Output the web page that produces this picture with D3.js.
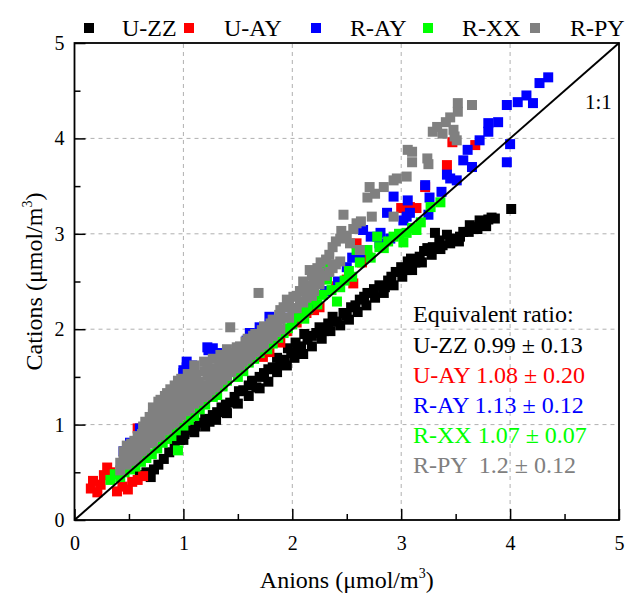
<!DOCTYPE html>
<html>
<head>
<meta charset="utf-8">
<script src="https://cdn.jsdelivr.net/npm/d3@7"></script>
<style>
  html, body { margin: 0; padding: 0; background: #ffffff; }
  svg { display: block; }
</style>
</head>
<body>
<svg id="chart" width="627" height="595"></svg>
<script>
// ---------------- data ----------------
const seriesNames = ["U-ZZ", "U-AY", "R-AY", "R-XX", "R-PY"];
const seriesColors = ["#000000", "#ff0000", "#0000ff", "#00ff00", "#808080"];
const xTicks = [0, 1, 2, 3, 4, 5];
const yTicks = [0, 1, 2, 3, 4, 5];
const minorTicks = [0.5, 1.5, 2.5, 3.5, 4.5];
const ratioTitle = "Equivalent ratio:";
const ratioLabels = ["U-ZZ 0.99 \u00b1 0.13", "U-AY 1.08 \u00b1 0.20", "R-AY 1.13 \u00b1 0.12", "R-XX 1.07 \u00b1 0.07", "R-PY  1.2 \u00b1 0.12"];

const uzz = [[0.60,0.47],[0.66,0.50],[0.70,0.45],[0.73,0.53],[0.77,0.58],[0.82,0.64],[0.87,0.71],[0.92,0.78],[0.97,0.84],[1.01,0.90],[1.06,0.94],[1.11,0.98],[1.15,1.02],[1.20,1.06],[1.24,1.03],[1.27,1.10],[1.31,1.13],[1.35,1.18],[1.39,1.21],[1.43,1.23],[1.47,1.29],[1.51,1.35],[1.55,1.36],[1.60,1.41],[1.63,1.46],[1.67,1.39],[1.70,1.50],[1.74,1.54],[1.78,1.58],[1.82,1.60],[1.86,1.70],[1.89,1.63],[1.93,1.68],[1.96,1.80],[1.99,1.75],[2.03,1.86],[2.05,1.77],[2.08,1.82],[2.11,1.95],[2.14,1.89],[2.18,1.93],[2.22,1.96],[2.25,2.02],[2.29,1.98],[2.33,2.06],[2.37,2.13],[2.41,2.08],[2.47,2.17],[2.50,2.14],[2.54,2.23],[2.58,2.25],[2.62,2.31],[2.66,2.34],[2.69,2.38],[2.75,2.42],[2.80,2.46],[2.85,2.44],[2.88,2.51],[2.91,2.55],[2.95,2.60],[3.00,2.65],[3.05,2.62],[3.06,2.71],[3.09,2.74],[3.13,2.70],[3.17,2.76],[3.21,2.82],[3.24,2.85],[3.29,2.86],[3.31,3.01],[3.35,2.93],[3.38,2.88],[3.42,2.99],[3.48,2.95],[3.54,2.97],[3.57,3.02],[3.63,3.09],[3.69,3.07],[3.72,3.14],[3.76,3.11],[3.80,3.15],[3.83,3.17],[3.86,3.16],[4.01,3.26],
  [1.00,0.84],[1.10,0.92],[1.20,0.98],[1.30,1.05],[1.40,1.12],[1.50,1.22],[1.60,1.30],[1.70,1.38],[1.78,1.45],[1.86,1.55],[1.95,1.62],[2.02,1.70],[2.10,1.74],[2.18,1.82],[2.27,1.90],[2.35,1.98],[2.44,2.04],[2.52,2.10],[2.60,2.18],[2.68,2.25],[2.76,2.33],[2.84,2.38],[2.93,2.46],[3.01,2.55],[3.10,2.62],[3.19,2.70],[3.28,2.78],[3.36,2.84],[3.45,2.90],[3.53,2.92],[3.62,3.02],[3.70,3.05],[3.78,3.08]];

const uay = [[0.15,0.33],[0.17,0.41],[0.21,0.29],[0.24,0.37],[0.27,0.47],[0.30,0.55],[0.33,0.50],[0.39,0.30],[0.44,0.35],[0.49,0.32],[0.53,0.40],[0.58,0.42],[0.63,0.46],[0.58,0.96],[0.80,0.93],[1.00,1.10],[1.18,1.36],[1.30,1.40],[1.50,1.60],[1.73,1.71],[1.79,1.76],[1.89,1.86],[1.95,1.98],[2.04,2.07],[2.13,2.17],[2.20,2.20],[2.25,2.23],[2.40,2.45],[2.50,2.52],[2.56,2.48],[2.59,2.90],[2.64,2.70],[2.69,2.76],[3.00,3.27],[3.08,3.28],[3.14,3.27],[3.22,3.49],[3.42,3.72],[3.47,3.96],[3.68,3.93]];

const ray = [[0.45,0.72],[0.51,0.81],[0.60,0.96],[0.80,1.10],[1.00,1.54],[1.00,1.57],[1.03,1.60],[1.03,1.66],[1.08,1.62],[1.07,1.48],[1.22,1.81],[1.27,1.80],[1.23,1.78],[1.31,1.75],[1.20,1.40],[1.46,1.73],[1.50,1.60],[1.58,1.88],[1.61,1.96],[1.67,1.92],[1.70,2.02],[1.73,1.99],[1.79,2.13],[1.95,2.23],[2.00,2.10],[2.19,2.27],[2.30,2.40],[2.42,2.50],[2.50,2.65],[2.55,2.75],[2.62,2.76],[2.65,2.83],[2.65,3.04],[2.72,2.97],[2.81,3.01],[2.80,2.90],[2.90,2.95],[2.87,3.22],[2.93,3.39],[3.02,3.14],[3.05,3.18],[3.08,3.22],[3.06,3.35],[3.22,3.51],[3.25,3.20],[3.26,3.38],[3.37,3.44],[3.42,3.62],[3.45,3.58],[3.51,3.56],[3.57,3.77],[3.61,3.88],[3.65,3.70],[3.72,3.98],[3.80,4.07],[3.80,4.16],[3.89,4.17],[3.97,3.75],[4.00,3.94],[3.97,4.35],[4.07,4.38],[4.15,4.45],[4.21,4.37],[4.27,4.58],[4.35,4.64]];

const rxx = [[0.33,0.42],[0.37,0.48],[0.42,0.45],[0.46,0.50],[0.51,0.53],[0.56,0.56],[0.61,0.61],[0.66,0.65],[0.71,0.69],[0.76,0.75],[0.81,0.81],[0.85,0.85],[0.89,0.88],[0.95,0.73],[0.93,0.94],[1.00,0.99],[1.05,1.05],[1.10,1.09],[1.15,1.16],[1.20,1.21],[1.27,1.29],[1.22,1.36],[1.31,1.31],[1.36,1.40],[1.40,1.46],[1.43,1.60],[1.49,1.57],[1.50,1.50],[1.55,1.56],[1.60,1.65],[1.65,1.69],[1.70,1.75],[1.77,1.79],[1.82,1.85],[1.82,1.96],[1.87,1.91],[1.92,1.96],[1.96,2.01],[2.00,2.05],[2.04,2.13],[2.08,2.18],[2.11,2.11],[2.14,2.21],[2.19,2.31],[2.23,2.26],[2.28,2.36],[2.29,2.65],[2.32,2.52],[2.36,2.41],[2.41,2.29],[2.44,2.44],[2.48,2.51],[2.52,2.61],[2.55,2.55],[2.59,2.83],[2.62,2.70],[2.69,2.83],[2.72,2.75],[2.78,2.97],[2.80,2.86],[2.84,2.85],[2.88,2.92],[2.93,2.97],[2.98,3.00],[3.02,2.91],[3.05,3.01],[3.10,3.06],[3.14,3.04],[3.18,3.12],[3.27,3.28],[3.36,3.33]];

const rpy = [[0.42,0.52],[0.42,0.60],[0.48,0.58],[0.48,0.68],[0.48,0.78],[0.55,0.64],[0.55,0.73],[0.55,0.83],[0.62,0.72],[0.62,0.81],[0.62,0.90],[0.63,0.98],[0.68,0.80],[0.68,0.89],[0.68,0.98],[0.69,1.08],[0.75,0.87],[0.75,0.96],[0.75,1.06],[0.75,1.15],[0.77,1.24],[0.82,0.94],[0.82,1.03],[0.82,1.12],[0.82,1.21],[0.83,1.30],[0.88,1.00],[0.88,1.09],[0.88,1.18],[0.88,1.28],[0.88,1.37],[0.95,1.07],[0.95,1.16],[0.95,1.26],[0.95,1.36],[0.95,1.46],[1.02,1.14],[1.02,1.23],[1.02,1.33],[1.02,1.43],[1.04,1.53],[1.10,1.22],[1.10,1.31],[1.10,1.41],[1.12,1.52],[1.10,1.62],[1.18,1.29],[1.18,1.39],[1.19,1.56],[1.19,1.66],[1.25,1.36],[1.25,1.46],[1.26,1.56],[1.27,1.69],[1.32,1.43],[1.32,1.53],[1.33,1.63],[1.34,1.73],[1.40,1.51],[1.40,1.61],[1.40,1.70],[1.40,1.79],[1.43,2.02],[1.48,1.59],[1.48,1.69],[1.49,1.81],[1.55,1.66],[1.55,1.76],[1.57,1.87],[1.62,1.73],[1.62,1.83],[1.64,1.93],[1.69,2.38],[1.70,1.81],[1.70,1.91],[1.72,1.99],[1.78,1.90],[1.78,1.99],[1.80,2.06],[1.85,1.97],[1.86,2.07],[1.88,2.15],[1.92,2.12],[1.92,2.23],[1.95,2.31],[2.00,2.22],[2.01,2.34],[2.07,2.29],[2.07,2.40],[2.13,2.33],[2.13,2.46],[2.16,2.62],[2.20,2.40],[2.20,2.51],[2.25,2.47],[2.25,2.59],[2.26,2.70],[2.30,2.56],[2.31,2.73],[2.37,2.64],[2.37,2.86],[2.44,2.71],[2.44,2.95],[2.45,3.03],[2.47,3.20],[2.53,2.90],[2.59,3.11],[2.62,2.83],[2.63,3.13],[2.69,3.38],[2.71,3.49],[2.73,3.18],[2.76,3.42],[2.84,3.49],[2.93,3.56],[2.96,3.58],[2.93,3.18],[3.05,3.60],[3.10,3.75],[3.10,3.86],[3.06,3.88],[3.24,3.79],[3.25,3.73],[3.29,4.07],[3.33,4.12],[3.38,4.05],[3.41,4.17],[3.45,4.22],[3.48,4.09],[3.49,4.02],[3.51,3.98],[3.52,4.28],[3.52,4.37],[3.65,4.35],
  [0.45,0.63],[0.45,0.72],[0.52,0.62],[0.52,0.72],[0.52,0.80],[0.58,0.68],[0.58,0.78],[0.58,0.88],[0.65,0.75],[0.65,0.85],[0.65,0.94],[0.65,1.03],[0.72,0.82],[0.72,0.92],[0.72,1.01],[0.72,1.11],[0.72,1.18],[0.79,0.89],[0.79,0.99],[0.79,1.08],[0.79,1.17],[0.79,1.26],[0.85,0.95],[0.85,1.05],[0.85,1.15],[0.85,1.24],[0.85,1.33],[0.92,1.02],[0.92,1.12],[0.92,1.22],[0.92,1.31],[0.92,1.41],[0.98,1.10],[0.98,1.20],[0.98,1.30],[0.98,1.40],[0.98,1.48],[1.06,1.17],[1.06,1.27],[1.06,1.37],[1.06,1.47],[1.14,1.25],[1.14,1.35],[1.14,1.45],[1.22,1.31],[1.22,1.41],[1.22,1.51],[1.22,1.61],[1.29,1.39],[1.29,1.49],[1.29,1.59],[1.36,1.47],[1.36,1.57],[1.36,1.67],[1.44,1.55],[1.44,1.65],[1.44,1.75],[1.52,1.62],[1.52,1.72],[1.52,1.82],[1.59,1.69],[1.59,1.79],[1.59,1.90],[1.66,1.76],[1.66,1.86],[1.66,1.95],[1.74,1.84],[1.74,1.94],[1.74,2.03],[1.82,1.93],[1.82,2.03],[1.82,2.10],[1.89,2.00],[1.89,2.10],[1.89,2.20],[1.97,2.12],[1.97,2.26],[2.04,2.22],[2.04,2.35],[2.10,2.28],[2.10,2.40],[2.10,2.50],[2.18,2.35],[2.18,2.45],[2.18,2.56],[2.23,2.53],[2.23,2.64],[2.34,2.60],[2.34,2.78],[2.40,2.68],[2.40,2.92],[2.50,2.98],[2.56,3.05]];

const seriesData = [uzz, uay, ray, rxx, rpy];

// ---------------- layout ----------------
const FONT = "Liberation Serif";
const svg = d3.select("#chart");
const x = d3.scaleLinear().domain([0, 5]).range([74.5, 619]);
const y = d3.scaleLinear().domain([0, 5]).range([520, 43]);
const markerSize = 10;

// grid
const grid = svg.append("g");
grid.selectAll("line.gx").data(xTicks.filter(d => d > 0 && d < 5)).enter().append("line")
  .attr("x1", d => x(d)).attr("x2", d => x(d)).attr("y1", y(0)).attr("y2", y(5))
  .attr("stroke", "#b0b0b0").attr("stroke-width", 1).attr("stroke-dasharray", "4,4");
grid.selectAll("line.gy").data(yTicks.filter(d => d > 0 && d < 5)).enter().append("line")
  .attr("x1", x(0)).attr("x2", x(5)).attr("y1", d => y(d)).attr("y2", d => y(d))
  .attr("stroke", "#b0b0b0").attr("stroke-width", 1).attr("stroke-dasharray", "4,4");

// clip
svg.append("clipPath").attr("id", "plotclip").append("rect")
  .attr("x", x(0)).attr("y", y(5)).attr("width", x(5) - x(0)).attr("height", y(0) - y(5));

// points
const pts = svg.append("g").attr("clip-path", "url(#plotclip)");
seriesData.forEach((data, i) => {
  pts.append("g").selectAll("rect").data(data).enter().append("rect")
    .attr("x", d => x(d[0]) - markerSize / 2)
    .attr("y", d => y(d[1]) - markerSize / 2)
    .attr("width", markerSize).attr("height", markerSize)
    .attr("fill", seriesColors[i]);
});

// 1:1 line
svg.append("line")
  .attr("x1", x(0)).attr("y1", y(0)).attr("x2", x(5)).attr("y2", y(5))
  .attr("stroke", "#000").attr("stroke-width", 2);

// axes
const xAxis = d3.axisBottom(x).tickValues(xTicks).tickFormat(d3.format("d"))
  .tickSizeInner(-11).tickSizeOuter(0).tickPadding(16);
const gx = svg.append("g").attr("transform", `translate(0,${y(0)})`).call(xAxis);
const yAxis = d3.axisLeft(y).tickValues(yTicks).tickFormat(d3.format("d"))
  .tickSizeInner(-11).tickSizeOuter(0).tickPadding(20);
const gy = svg.append("g").attr("transform", `translate(${x(0)},0)`).call(yAxis);
[gx, gy].forEach(g => {
  g.select(".domain").remove();
  g.selectAll(".tick line").attr("stroke", "#000").attr("stroke-width", 1.5);
  g.selectAll(".tick text").style("font-family", FONT).style("font-size", "20px").attr("fill", "#000");
});
gy.selectAll(".tick text").attr("x", -10);

const xMinor = d3.axisBottom(x).tickValues(minorTicks).tickFormat("").tickSizeInner(-6).tickSizeOuter(0);
const gxm = svg.append("g").attr("transform", `translate(0,${y(0)})`).call(xMinor);
const yMinor = d3.axisLeft(y).tickValues(minorTicks).tickFormat("").tickSizeInner(-6).tickSizeOuter(0);
const gym = svg.append("g").attr("transform", `translate(${x(0)},0)`).call(yMinor);
[gxm, gym].forEach(g => {
  g.select(".domain").remove();
  g.selectAll(".tick line").attr("stroke", "#000").attr("stroke-width", 1.5);
});

// frame
svg.append("rect")
  .attr("x", x(0)).attr("y", y(5)).attr("width", x(5) - x(0)).attr("height", y(0) - y(5))
  .attr("fill", "none").attr("stroke", "#000").attr("stroke-width", 1.8);

function txt(sel) { return sel.style("font-family", FONT); }

// axis titles
const xt = txt(svg.append("text")).attr("x", (x(0) + x(5)) / 2).attr("y", 588)
  .attr("text-anchor", "middle").style("font-size", "24px");
xt.append("tspan").text("Anions (\u03bcmol/m");
xt.append("tspan").style("font-size", "14px").attr("dy", -10).text("3");
xt.append("tspan").attr("dy", 10).text(")");

const yt = txt(svg.append("text"))
  .attr("transform", `translate(42,${(y(0) + y(5)) / 2}) rotate(-90)`)
  .attr("text-anchor", "middle").style("font-size", "24px");
yt.append("tspan").text("Cations (\u03bcmol/m");
yt.append("tspan").style("font-size", "14px").attr("dy", -10).text("3");
yt.append("tspan").attr("dy", 10).text(")");

// legend
const legendMarkX = [89, 189, 316, 428, 535];
const legendTextX = [122, 224, 350, 462, 570];
seriesNames.forEach((name, i) => {
  svg.append("rect").attr("x", legendMarkX[i] - 5).attr("y", 23).attr("width", 10).attr("height", 10)
    .attr("fill", seriesColors[i]);
  txt(svg.append("text")).attr("x", legendTextX[i]).attr("y", 36)
    .style("font-size", "24px").attr("fill", "#000").text(name);
});

// 1:1 label
txt(svg.append("text")).attr("x", 585).attr("y", 109).style("font-size", "21px").text("1:1");

// equivalent ratio annotation
txt(svg.append("text")).attr("x", 413).attr("y", 322).style("font-size", "24px").text(ratioTitle);
ratioLabels.forEach((t, i) => {
  txt(svg.append("text")).attr("x", 413).attr("y", 353 + i * 30).style("font-size", "24px")
    .attr("fill", seriesColors[i]).style("white-space", "pre").text(t);
});
</script>
</body>
</html>
